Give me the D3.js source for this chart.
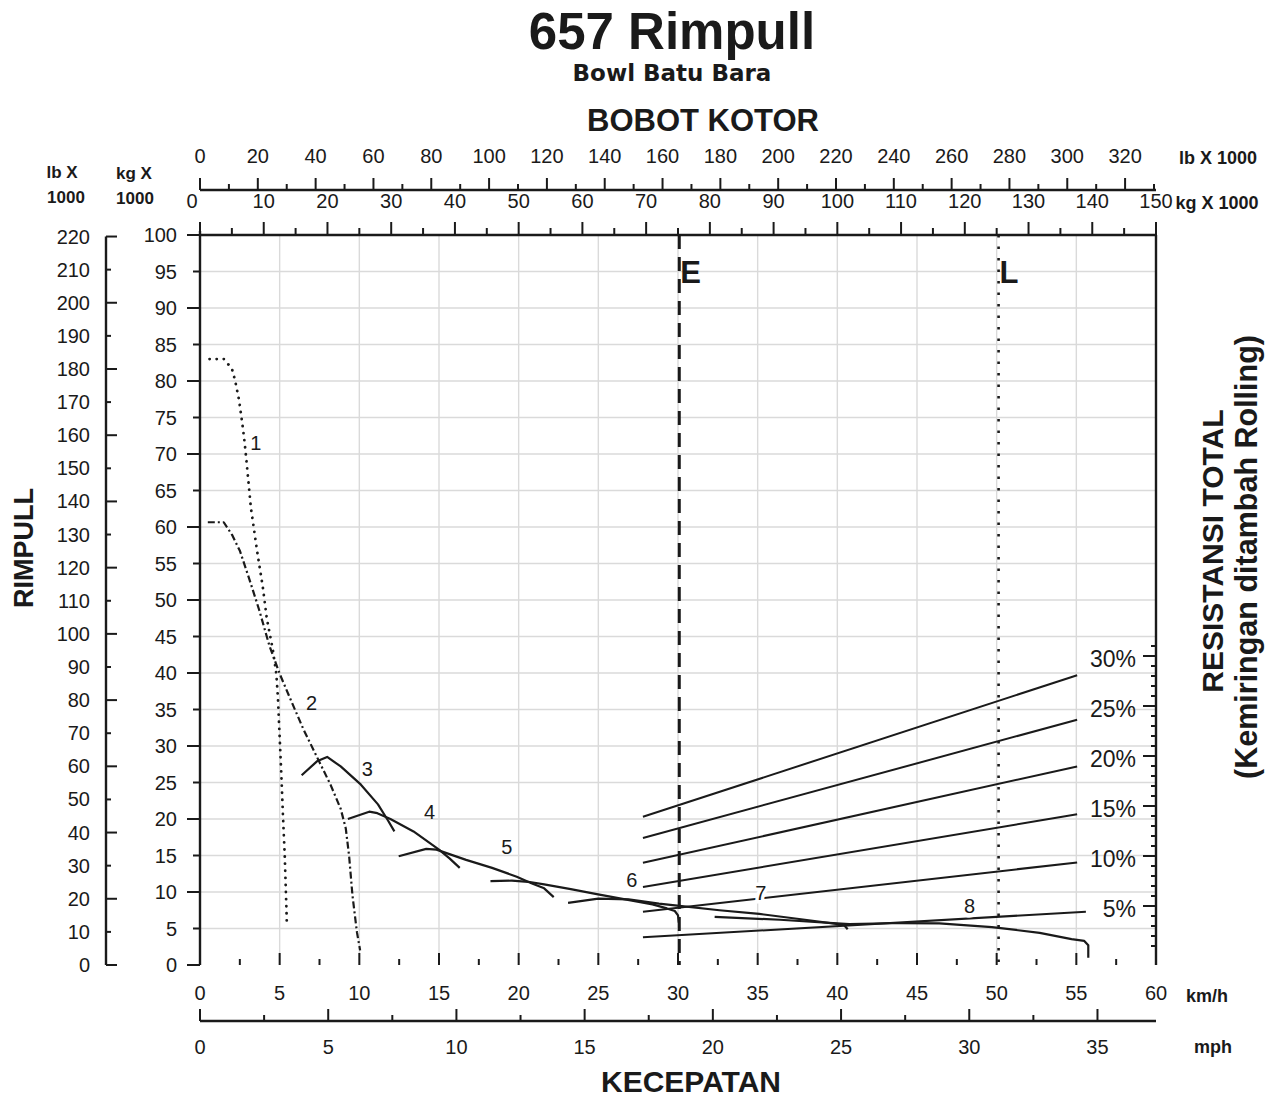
<!DOCTYPE html>
<html><head><meta charset="utf-8">
<script src="https://cdn.jsdelivr.net/npm/d3@7"></script>
<style>
body{margin:0;background:#fff}
svg{display:block}
text{font-family:"Liberation Sans",Arial,sans-serif;fill:#1a1a1a}
</style>
</head><body>
<svg id="c" width="1267" height="1099"></svg>
<script>
// ---------------- DATA ----------------
const titleText = "657 Rimpull";
const subtitleText = "Bowl Batu Bara";
const topTitle = "BOBOT KOTOR";
const bottomTitle = "KECEPATAN";
const leftTitle = "RIMPULL";
const rightTitle1 = "RESISTANSI TOTAL";
const rightTitle2 = "(Kemiringan ditambah Rolling)";

const kmhTicks = [0,5,10,15,20,25,30,35,40,45,50,55,60];
const mphTicks = [0,5,10,15,20,25,30,35];
const kgTopTicks = [0,10,20,30,40,50,60,70,80,90,100,110,120,130,140,150];
const lbTopTicks = [0,20,40,60,80,100,120,140,160,180,200,220,240,260,280,300,320];
const kgLeftTicks = [0,5,10,15,20,25,30,35,40,45,50,55,60,65,70,75,80,85,90,95,100];
const lbLeftTicks = [0,10,20,30,40,50,60,70,80,90,100,110,120,130,140,150,160,170,180,190,200,210,220];
const gradeLabels = ["5%","10%","15%","20%","25%","30%"];
const gradeValues = [5,10,15,20,25,30];

// gear curves: [speed km/h, rimpull kg x 1000]
const gear1 = [[0.6,83],[1.5,83],[2.0,81.7],[2.2,80.1],[2.45,77.4],[2.66,74.1],[2.81,71.4],[2.98,67.6],[3.19,62.7],[3.4,59.5],[3.62,56.2],[3.94,51.8],[4.19,47.5],[4.57,43.2],[4.79,39.9],[4.89,36.6],[5.0,31.2],[5.11,25.8],[5.21,20.3],[5.32,14.9],[5.43,7.3],[5.45,5.5]];
const gear2 = [[0.49,60.65],[1.49,60.65],[2.02,58.9],[2.51,56.7],[3.09,52.9],[3.72,48.6],[4.36,43.7],[5.0,39.9],[5.64,36.6],[6.49,32.3],[7.34,28.5],[8.19,24.7],[8.83,21.4],[9.15,18.7],[9.36,14.9],[9.57,9.5],[9.85,4.5],[10.05,2.0]];
const gear3 = [[6.38,26.0],[7.34,27.9],[7.98,28.5],[8.83,27.2],[10.1,24.7],[11.17,22.0],[11.8,19.8],[12.2,18.3]];
const gear4 = [[9.28,20.0],[10.62,21.0],[11.13,20.8],[11.95,20.0],[13.4,18.3],[15.0,15.8],[15.66,14.6],[16.3,13.3]];
const gear5 = [[12.47,14.9],[14.2,15.9],[14.84,15.8],[16.7,14.4],[18.33,13.3],[19.88,12.1],[20.8,11.2],[21.6,10.5],[22.2,9.3]];
const gear6 = [[18.23,11.5],[19.57,11.55],[20.6,11.4],[21.6,11.05],[23.27,10.4],[24.9,9.7],[26.77,8.95],[28.4,8.3],[29.3,7.75],[29.8,7.4],[30.0,6.8],[30.05,5.8]];
const gear7 = [[23.1,8.5],[25.0,9.1],[26.9,9.0],[28.8,8.4],[30.1,8.1],[32.6,7.5],[35.1,7.0],[37.6,6.3],[40.4,5.5],[40.65,4.9]];
const gear8 = [[32.3,6.6],[36.4,6.2],[40.75,5.6],[43.9,5.75],[46.4,5.7],[49.7,5.2],[52.7,4.4],[54.7,3.55],[55.5,3.3],[55.75,2.7],[55.75,1.0]];
const gearCurves = [gear1,gear2,gear3,gear4,gear5,gear6,gear7,gear8];
const gearNames = ["1","2","3","4","5","6","7","8"];
const gearLabelPos = [[3.5,71.5],[7.0,35.9],[10.5,26.8],[14.4,21.0],[19.25,16.2],[27.1,11.6],[35.2,9.9],[48.3,8.1]];

// total resistance lines: start/end speed and rimpull
const gradeStartKmh = [27.8,27.8,27.8,27.8,27.8,27.8];
const gradeEndKmh = [55.6,55.05,55.05,55.05,55.05,55.05];
const gradeStartRimpull = [3.8,7.3,10.7,14.0,17.4,20.3];
const gradeEndRimpull = [7.3,14.05,20.65,27.2,33.6,39.7];

const emptyWeight = 75.2;   // kg x 1000  (E)
const loadedWeight = 125.3; // kg x 1000  (L)

// ---------------- SCALES ----------------
const svg = d3.select("#c");
const L = 200, R = 1156, T = 235, B = 965;
const x = d3.scaleLinear().domain([0,60]).range([L,R]);
const xKg = d3.scaleLinear().domain([0,150]).range([L,R]);
const y = d3.scaleLinear().domain([0,100]).range([B,T]);
const yPct = d3.scaleLinear().domain([0,30]).range([956,656]);
const LB = 0.45359237, MPH = 1.609344;
const ink = "#1a1a1a";

// ---------------- GRID ----------------
const grid = svg.append("g");
grid.selectAll("line.h").data(d3.range(5,100,5)).join("line")
  .attr("x1",L).attr("x2",R).attr("y1",d=>y(d)).attr("y2",d=>y(d))
  .attr("stroke","#dadada").attr("stroke-width",1.4);
grid.selectAll("line.v").data(d3.range(5,60,5)).join("line")
  .attr("y1",T).attr("y2",B).attr("x1",d=>x(d)).attr("x2",d=>x(d))
  .attr("stroke","#dadada").attr("stroke-width",1.4);

// ---------------- TITLES ----------------
svg.append("text").attr("x",672).attr("y",49).attr("text-anchor","middle")
  .style("font-size","51px").style("font-weight","bold").text(titleText);
svg.append("text").attr("x",672).attr("y",81).attr("text-anchor","middle")
  .style("font-family","'DejaVu Sans',sans-serif").style("font-size","23px").style("font-weight","bold").text(subtitleText);
svg.append("text").attr("x",703).attr("y",131).attr("text-anchor","middle")
  .style("font-size","31px").style("font-weight","bold").text(topTitle);
svg.append("text").attr("x",691).attr("y",1092).attr("text-anchor","middle")
  .style("font-size","30px").style("font-weight","bold").text(bottomTitle);
svg.append("text").attr("transform","translate(33,548) rotate(-90)").attr("text-anchor","middle")
  .style("font-size","27px").style("font-weight","bold").text(leftTitle);
svg.append("text").attr("transform","translate(1223,551) rotate(-90)").attr("text-anchor","middle")
  .style("font-size","30px").style("font-weight","bold").text(rightTitle1);
svg.append("text").attr("transform","translate(1257,557) rotate(-90)").attr("text-anchor","middle")
  .style("font-size","30.5px").style("font-weight","bold").text(rightTitle2);

// ---------------- TICK HELPER ----------------
function ticks(g, vals, pos, len, dir, vertical){
  g.selectAll(null).data(vals).join("line")
    .attr(vertical?"y1":"x1",d=>pos(d)).attr(vertical?"y2":"x2",d=>pos(d))
    .attr(vertical?"x1":"y1",dir.a).attr(vertical?"x2":"y2",dir.a+len*dir.s)
    .attr("stroke",ink).attr("stroke-width",2);
}
function labels(g, vals, fmt, px, py, anchor, size){
  g.selectAll(null).data(vals).join("text")
    .attr("x",px).attr("y",py).attr("text-anchor",anchor).attr("dominant-baseline","central")
    .style("font-size",size).text(fmt);
}

// ---------------- LEFT AXES ----------------
const ax = svg.append("g");
ax.append("line").attr("x1",L).attr("x2",L).attr("y1",T-4).attr("y2",B).attr("stroke",ink).attr("stroke-width",2.4);
ticks(ax, kgLeftTicks.filter(d=>d%10===0), y, 13, {a:L,s:-1}, true);
ticks(ax, kgLeftTicks.filter(d=>d%10!==0), y, 7, {a:L,s:-1}, true);
labels(ax, kgLeftTicks, d=>d, 177, d=>y(d), "end", "20px");
const lbX = 106;
ax.append("line").attr("x1",lbX).attr("x2",lbX).attr("y1",y(220*LB)).attr("y2",B).attr("stroke",ink).attr("stroke-width",2.4);
ticks(ax, lbLeftTicks.filter(d=>d%20===0), d=>y(d*LB), 11, {a:lbX,s:1}, true);
ticks(ax, lbLeftTicks.filter(d=>d%20!==0), d=>y(d*LB), 5, {a:lbX,s:1}, true);
labels(ax, lbLeftTicks, d=>d, 90, d=>y(d*LB), "end", "20px");

// ---------------- TOP AXES ----------------
ax.append("line").attr("x1",L).attr("x2",R).attr("y1",T).attr("y2",T).attr("stroke",ink).attr("stroke-width",2.4);
ticks(ax, kgTopTicks, xKg, 13, {a:T,s:-1}, false);
ticks(ax, d3.range(5,150,10), xKg, 7, {a:T,s:-1}, false);
labels(ax, kgTopTicks, d=>d, d=>xKg(d)-(d===0?8:0), 201, "middle", "20px");
const lbY = 190;
ax.append("line").attr("x1",L).attr("x2",R).attr("y1",lbY).attr("y2",lbY).attr("stroke",ink).attr("stroke-width",2.4);
ticks(ax, lbTopTicks, d=>xKg(d*LB), 12, {a:lbY,s:-1}, false);
ticks(ax, d3.range(10,331,20), d=>xKg(d*LB), 6, {a:lbY,s:-1}, false);
labels(ax, lbTopTicks, d=>d, d=>xKg(d*LB), 156, "middle", "20px");
svg.append("text").attr("x",1218).attr("y",158).attr("text-anchor","middle").attr("dominant-baseline","central")
  .style("font-size","18px").style("font-weight","bold").text("lb X 1000");
svg.append("text").attr("x",1217).attr("y",203).attr("text-anchor","middle").attr("dominant-baseline","central")
  .style("font-size","18px").style("font-weight","bold").text("kg X 1000");
[["lb X",62,172],["1000",66,197],["kg X",134,173],["1000",135,198]].forEach(t=>{
  svg.append("text").attr("x",t[1]).attr("y",t[2]).attr("text-anchor","middle").attr("dominant-baseline","central")
    .style("font-size","17px").style("font-weight","bold").text(t[0]);
});

// ---------------- RIGHT AXIS ----------------
ax.append("line").attr("x1",R).attr("x2",R).attr("y1",T).attr("y2",B).attr("stroke",ink).attr("stroke-width",2.4);
ticks(ax, gradeValues, yPct, 13, {a:R,s:-1}, true);
ticks(ax, d3.range(1,32).filter(d=>d%5!==0), yPct, 5, {a:R,s:-1}, true);
labels(ax, gradeValues, (d,i)=>gradeLabels[i], 1136, d=>yPct(d)+3, "end", "23px");

// ---------------- BOTTOM AXES ----------------
ticks(ax, kmhTicks, x, 12, {a:B,s:-1}, false);
ticks(ax, d3.range(2.5,60,5), x, 6, {a:B,s:-1}, false);
labels(ax, kmhTicks, d=>d, x, 993, "middle", "20px");
svg.append("text").attr("x",1207).attr("y",996).attr("text-anchor","middle").attr("dominant-baseline","central")
  .style("font-size","18px").style("font-weight","bold").text("km/h");
const mphY = 1021;
ax.append("line").attr("x1",L).attr("x2",R).attr("y1",mphY).attr("y2",mphY).attr("stroke",ink).attr("stroke-width",2.4);
ticks(ax, mphTicks, d=>x(d*MPH), 12, {a:mphY,s:-1}, false);
ticks(ax, d3.range(2.5,37,5), d=>x(d*MPH), 6, {a:mphY,s:-1}, false);
labels(ax, mphTicks, d=>d, d=>x(d*MPH), 1047, "middle", "20px");
svg.append("text").attr("x",1213).attr("y",1047).attr("text-anchor","middle").attr("dominant-baseline","central")
  .style("font-size","18px").style("font-weight","bold").text("mph");

// ---------------- GRADE LINES ----------------
const gl = svg.append("g");
gl.selectAll("line").data(gradeValues).join("line")
  .attr("x1",(d,i)=>x(gradeStartKmh[i])).attr("y1",(d,i)=>y(gradeStartRimpull[i]))
  .attr("x2",(d,i)=>x(gradeEndKmh[i])).attr("y2",(d,i)=>y(gradeEndRimpull[i]))
  .attr("stroke",ink).attr("stroke-width",2);

// ---------------- E / L ----------------
svg.append("line").attr("x1",xKg(emptyWeight)).attr("x2",xKg(emptyWeight)).attr("y1",T).attr("y2",B)
  .attr("stroke",ink).attr("stroke-width",3).attr("stroke-dasharray","14,8");
svg.append("line").attr("x1",xKg(loadedWeight)).attr("x2",xKg(loadedWeight)).attr("y1",T).attr("y2",B)
  .attr("stroke",ink).attr("stroke-width",2.6).attr("stroke-dasharray","2.5,9");
svg.append("text").attr("x",xKg(emptyWeight)+1).attr("y",283).style("font-size","31px").style("font-weight","bold").text("E");
svg.append("text").attr("x",xKg(loadedWeight)+1).attr("y",283).style("font-size","31px").style("font-weight","bold").text("L");

// ---------------- GEAR CURVES ----------------
const lineNat = d3.line().x(d=>x(d[0])).y(d=>y(d[1])).curve(d3.curveLinear);
const dashes = ["0.1,7","7,3,2,3",null,null,null,null,null,null];
const cg = svg.append("g");
gearCurves.forEach((c,i)=>{
  cg.append("path").datum(c).attr("d",lineNat).attr("fill","none")
    .attr("stroke",ink).attr("stroke-width",i===0?2.8:2.2)
    .attr("stroke-linecap",i===0?"round":"butt").attr("stroke-linejoin","round")
    .attr("stroke-dasharray",dashes[i]);
});
cg.selectAll("text").data(gearNames).join("text")
  .attr("x",(d,i)=>x(gearLabelPos[i][0])).attr("y",(d,i)=>y(gearLabelPos[i][1]))
  .attr("text-anchor","middle").attr("dominant-baseline","central")
  .style("font-size","20px").style("paint-order","stroke")
  .attr("stroke",(d,i)=>i>=6?"#fff":"none").attr("stroke-width",(d,i)=>i===7?9:7)
  .text(d=>d);
</script>
</body></html>
